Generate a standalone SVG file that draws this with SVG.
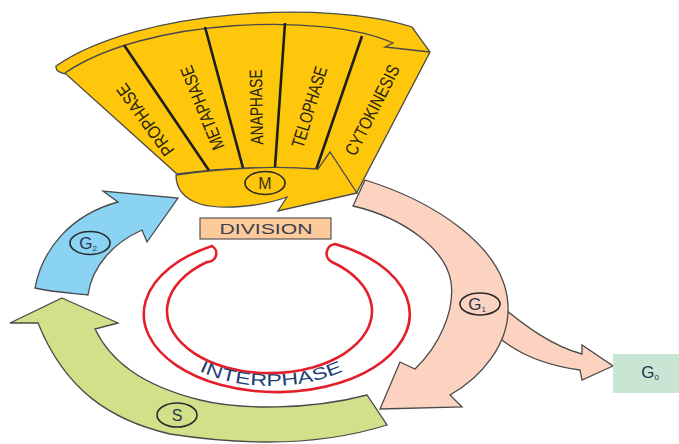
<svg xmlns="http://www.w3.org/2000/svg" width="679" height="444" viewBox="0 0 679 444">
  <defs>
    <style>
      .edge { stroke: #4a4a4a; stroke-width: 1.3; stroke-linejoin: miter; }
      .g1 { fill: #fcd2c0; }
      .s { fill: #d3e08a; }
      .g2 { fill: #8bd3f3; }
      .m { fill: #fec70b; }
      .div { stroke: #1e1e1e; stroke-width: 2.6; fill: none; stroke-linecap: butt; }
      .ring { fill: none; stroke: #2a2a2a; stroke-width: 1.6; }
      .phase { font-family: "Liberation Sans", Arial, sans-serif; font-size: 18px; fill: #25230f; text-anchor: middle; }
      .lbl { font-family: "Liberation Sans", Arial, sans-serif; fill: #27324d; }
      .sub { font-size: 8px; }
    </style>
    <path id="interArc" d="M150,310 A121,76 0 0 0 392,310"/>
  </defs>

  <!-- G0 exit branch -->
  <g id="g0-branch">
    <path class="g1 edge" d="M500,305 C525,326 552,346 582,354 L582,345 L613,366 L582,380 L580,370 C550,366 520,356 497,336 Z"/>
  </g>

  <!-- G1 arrow -->
  <g id="g1">
    <path class="g1 edge" d="M365,180 C430,200 505,245 508,305 C510,345 480,378 450,395 L462,407 L380,409 L400,362 L415,369 C440,345 455,310 451,282 C446,250 405,218 353,206 Z"/>
    <ellipse class="ring" cx="480" cy="304" rx="20" ry="11"/>
    <text class="lbl" x="477" y="310" font-size="17" text-anchor="middle">G<tspan class="sub" dy="2">1</tspan></text>
  </g>

  <!-- S arrow -->
  <g id="s">
    <path class="s edge" d="M62,298 L118,323 L95,329 C110,360 140,385 200,400 C240,410 310,410 367,395 L387,425 C330,443 260,448 170,434 C110,420 65,390 38,323 L10,323 Z"/>
    <ellipse class="ring" cx="177" cy="415" rx="20" ry="12"/>
    <text class="lbl" x="177" y="421" font-size="16" text-anchor="middle">S</text>
  </g>

  <!-- G2 arrow -->
  <g id="g2">
    <path class="g2 edge" d="M35,288 C42,250 70,215 118,202 L103,191 L178,198 L147,242 L142,230 C115,242 92,265 88,295 C70,293 52,292 35,288 Z"/>
    <ellipse class="ring" cx="90" cy="243" rx="20" ry="11.5"/>
    <text class="lbl" x="88" y="249" font-size="17" text-anchor="middle">G<tspan class="sub" dy="2">2</tspan></text>
  </g>

  <!-- M phase fan -->
  <g id="m-phase">
    <path class="m edge" d="M56,66 C140,8 330,0 412,27 L430,52 L357,192 L318,170 Q250,164 177,174 L66,74 Q55,72 56,66 Z"/>
    <path class="edge" fill="none" d="M65,73 C145,18 325,12 393,43 L385,47 L430,52"/>
    <path class="div" d="M124,45 L210,172 M205,27 L243,168 M285,23 L275,167 M362,36 L316,170"/>
    <path class="m edge" d="M176,175 Q250,164 318,169 L330,152 L357,193 L278,211 L287,197 C260,207 220,210 200,204 C185,199 176,190 176,175 Z"/>
    <ellipse class="ring" cx="265" cy="183" rx="20" ry="11.5"/>
    <text x="265" y="189" font-family="Liberation Sans, Arial, sans-serif" font-size="16" fill="#3a3212" text-anchor="middle">M</text>
    <text class="phase" transform="translate(145,120) rotate(-126)" dy="6.5" textLength="84" lengthAdjust="spacingAndGlyphs">PROPHASE</text>
    <text class="phase" transform="translate(202,108) rotate(-112)" dy="6.5" textLength="89" lengthAdjust="spacingAndGlyphs">METAPHASE</text>
    <text class="phase" transform="translate(256,107) rotate(-91)" dy="6.5" textLength="75" lengthAdjust="spacingAndGlyphs">ANAPHASE</text>
    <text class="phase" transform="translate(309,107) rotate(-73)" dy="6.5" textLength="84" lengthAdjust="spacingAndGlyphs">TELOPHASE</text>
    <text class="phase" transform="translate(372,110) rotate(-63)" dy="6.5" textLength="99" lengthAdjust="spacingAndGlyphs">CYTOKINESIS</text>
  </g>

  <!-- Division label -->
  <g id="division">
    <rect x="200" y="218" width="131" height="21" fill="#fdca9b" stroke="#555" stroke-width="1.2"/>
    <text x="266" y="234" font-family="Liberation Sans, Arial, sans-serif" font-size="15" fill="#3b3f50" text-anchor="middle" textLength="93" lengthAdjust="spacingAndGlyphs">DIVISION</text>
  </g>

  <!-- Interphase loop -->
  <g id="interphase">
    <path fill="none" stroke="#e3202a" stroke-width="2.6" d="M212,246 A133,78 0 1 0 335,244 A9.5,9.5 0 0 0 332,262 A102.5,62 0 1 1 207,262 A8.6,8.6 0 0 0 212,246 Z"/>
    <text font-family="Liberation Sans, Arial, sans-serif" font-size="17" fill="#1d3f74" text-anchor="middle"><textPath href="#interArc" startOffset="50%" textLength="148" lengthAdjust="spacingAndGlyphs">INTERPHASE</textPath></text>
  </g>

  <!-- G0 box -->
  <g id="g0">
    <rect x="613" y="354" width="66" height="39" fill="#c9e6d4"/>
    <text class="lbl" x="650" y="378" font-size="17" text-anchor="middle">G<tspan class="sub" dy="2">0</tspan></text>
  </g>
</svg>
